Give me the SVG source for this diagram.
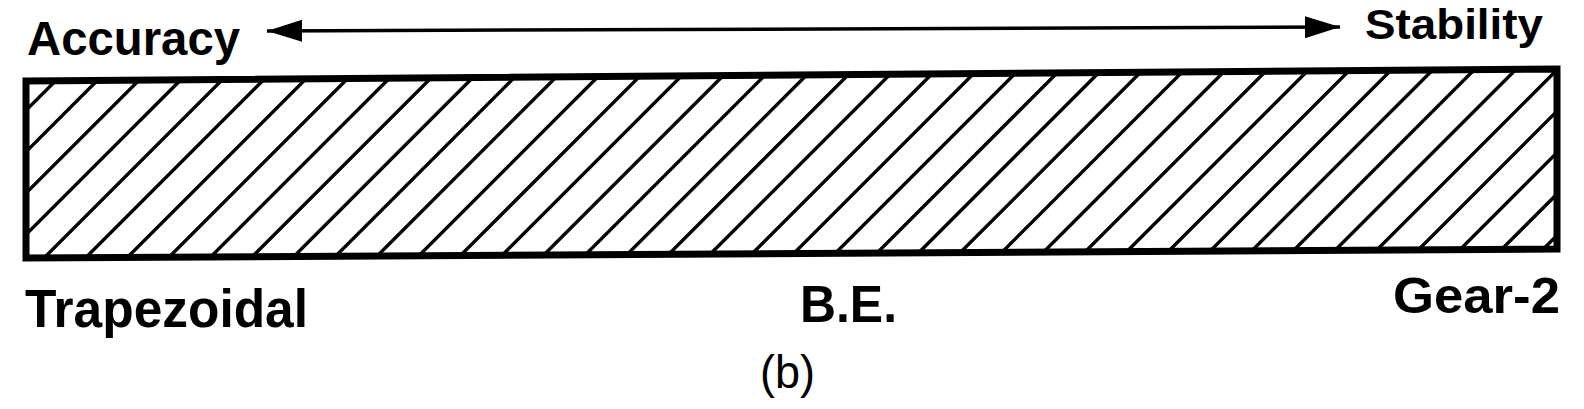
<svg xmlns="http://www.w3.org/2000/svg" width="1584" height="409" viewBox="0 0 1584 409">
<style>
.lbl{font-family:"Liberation Sans",Arial,sans-serif;font-weight:bold;fill:#000}
.cap{font-family:"Liberation Sans",Arial,sans-serif;font-weight:normal;fill:#000}
.frame{fill:none;stroke:#000;stroke-width:7;stroke-linejoin:miter}
.hatch{fill:none;stroke:#000;stroke-width:3.4}
.conn{fill:none;stroke:#000;stroke-width:3.5}
</style>
<defs>
<marker id="ah" markerUnits="userSpaceOnUse" markerWidth="36" markerHeight="24" refX="35" refY="12" orient="auto-start-reverse">
<path d="M0,1 L35,12 L0,23 Z" fill="#000"/>
</marker>
<clipPath id="barclip">
<polygon points="26,81 1557,69 1557,249 26,258"/>
</clipPath>
</defs>
<rect width="1584" height="409" fill="#fff"/>
<g id="bar">
<path class="hatch" clip-path="url(#barclip)" d="M-133.6,270L76.4,60M-92.2,270L117.8,60M-50.8,270L159.2,60M-9.4,270L200.6,60M32,270L242,60M73.4,270L283.4,60M114.8,270L324.8,60M156.2,270L366.2,60M197.6,270L407.6,60M239,270L449,60M280.4,270L490.4,60M321.8,270L531.8,60M363.2,270L573.2,60M404.6,270L614.6,60M446,270L656,60M487.4,270L697.4,60M528.8,270L738.8,60M570.2,270L780.2,60M611.6,270L821.6,60M653,270L863,60M694.4,270L904.4,60M735.8,270L945.8,60M777.2,270L987.2,60M818.6,270L1028.6,60M860,270L1070,60M901.4,270L1111.4,60M942.8,270L1152.8,60M984.2,270L1194.2,60M1025.6,270L1235.6,60M1067,270L1277,60M1108.4,270L1318.4,60M1149.8,270L1359.8,60M1191.2,270L1401.2,60M1232.6,270L1442.6,60M1274,270L1484,60M1315.4,270L1525.4,60M1356.8,270L1566.8,60M1398.2,270L1608.2,60M1439.6,270L1649.6,60M1481,270L1691,60M1522.4,270L1732.4,60"/>
<polygon class="frame" points="26,81 1557,69 1557,249 26,258"/>
</g>
<g id="connectors">
<line class="conn" x1="267" y1="31" x2="1340" y2="27" marker-start="url(#ah)" marker-end="url(#ah)"/>
</g>
<g id="accuracy"><text class="lbl" x="27" y="55" font-size="48" textLength="213" lengthAdjust="spacingAndGlyphs">Accuracy</text></g>
<g id="stability"><text class="lbl" x="1365" y="39" font-size="43" textLength="178" lengthAdjust="spacingAndGlyphs">Stability</text></g>
<g id="trapezoidal"><text class="lbl" x="25" y="327" font-size="53" textLength="283" lengthAdjust="spacingAndGlyphs">Trapezoidal</text></g>
<g id="be"><text class="lbl" x="800" y="322" font-size="52" textLength="97" lengthAdjust="spacingAndGlyphs">B.E.</text></g>
<g id="gear2"><text class="lbl" x="1393" y="313" font-size="50" textLength="167" lengthAdjust="spacingAndGlyphs">Gear-2</text></g>
<g id="caption"><text class="cap" x="760" y="388" font-size="46" textLength="55" lengthAdjust="spacingAndGlyphs">(b)</text></g>
</svg>
